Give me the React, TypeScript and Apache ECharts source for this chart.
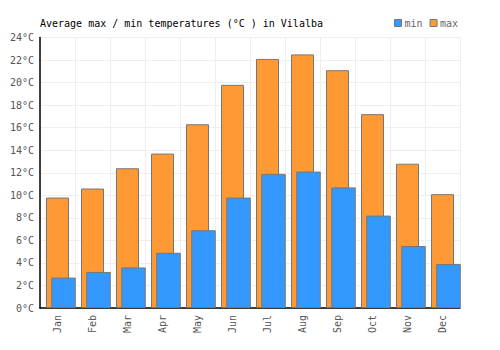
import React, { useEffect, useRef } from "react";
import * as echarts from "echarts";

const months = ["Jan", "Feb", "Mar", "Apr", "May", "Jun", "Jul", "Aug", "Sep", "Oct", "Nov", "Dec"];
const maxTemps = [9.8, 10.6, 12.4, 13.7, 16.3, 19.8, 22.1, 22.5, 21.1, 17.2, 12.8, 10.1];
const minTemps = [2.7, 3.2, 3.6, 4.9, 6.9, 9.8, 11.9, 12.1, 10.7, 8.2, 5.5, 3.9];

const FONT = "'DejaVu Sans Mono', monospace";

export default function App() {
  const ref = useRef<HTMLDivElement>(null);
  useEffect(() => {
    if (!ref.current) return;
    const chart = echarts.init(ref.current, null, { renderer: "svg" });
    chart.setOption({
      animation: false,
      backgroundColor: "#ffffff",
      title: {
        text: "Average max / min temperatures (°C ) in Vilalba",
        left: 35,
        top: 13,
        textStyle: { fontFamily: FONT, fontSize: 10, fontWeight: "normal", color: "#000" },
      },
      legend: {
        left: 389,
        top: 13,
        itemWidth: 7,
        itemHeight: 7,
        itemGap: 7,
        icon: "rect",
        textStyle: { fontFamily: FONT, fontSize: 10, color: "#666", padding: [0, 0, 0, -2] },
        data: [
          { name: "min", itemStyle: { color: "#3399ff", borderColor: "#777", borderWidth: 1 } },
          { name: "max", itemStyle: { color: "#ff9933", borderColor: "#777", borderWidth: 1 } },
        ],
      },
      grid: [
        { left: 40, right: 40, top: 37.5, bottom: 42 },
        { left: 46, right: 34, top: 37.5, bottom: 42 },
      ],
      xAxis: [
        {
          type: "category",
          gridIndex: 0,
          data: months,
          axisLine: { lineStyle: { color: "#000", width: 1.5 } },
          axisTick: { show: false },
          splitLine: { show: true, lineStyle: { color: "#eeeeee", width: 1 } },
          axisLabel: { rotate: 90, margin: 7, fontFamily: FONT, fontSize: 10, color: "#555" },
        },
        {
          type: "category",
          gridIndex: 1,
          data: months,
          show: false,
        },
      ],
      yAxis: [
        {
          type: "value",
          gridIndex: 0,
          min: 0,
          max: 24,
          interval: 2,
          axisLine: { show: true, lineStyle: { color: "#000", width: 1.5 } },
          axisTick: { show: false },
          splitLine: { show: true, lineStyle: { color: "#eeeeee", width: 1 } },
          axisLabel: { formatter: "{value}°C", margin: 6, fontFamily: FONT, fontSize: 10, color: "#555" },
        },
        {
          type: "value",
          gridIndex: 1,
          min: 0,
          max: 24,
          interval: 2,
          show: false,
          splitLine: { show: false },
        },
      ],
      series: [
        {
          name: "max",
          type: "bar",
          xAxisIndex: 0,
          yAxisIndex: 0,
          data: maxTemps,
          barWidth: 23,
          itemStyle: { color: "#ff9933", borderColor: "#777", borderWidth: 1 },
        },
        {
          name: "min",
          type: "bar",
          xAxisIndex: 1,
          yAxisIndex: 1,
          data: minTemps,
          barWidth: 24.5,
          itemStyle: { color: "#3399ff", borderColor: "#777", borderWidth: 1 },
        },
      ],
    });
    return () => chart.dispose();
  }, []);
  return <div ref={ref} style={{ width: 500, height: 350, position: "absolute", left: 0, top: 0 }} />;
}
